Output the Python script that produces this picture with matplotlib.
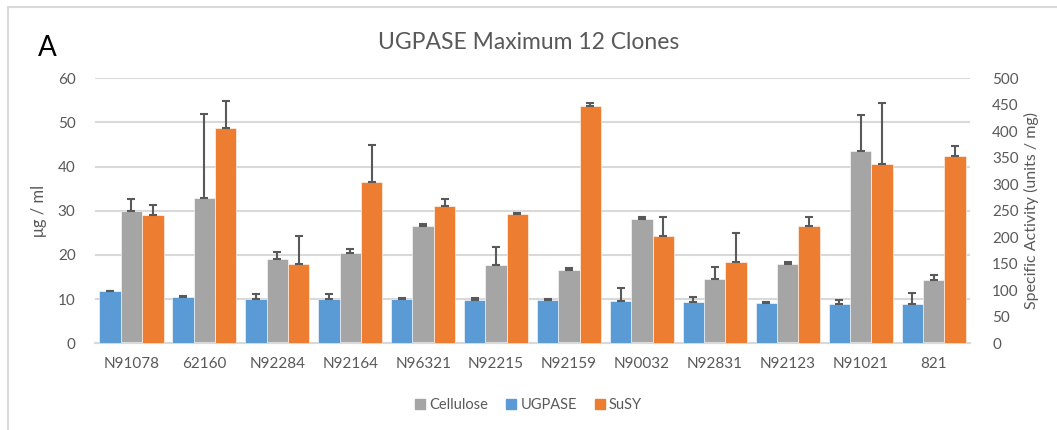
import numpy as np
import matplotlib
matplotlib.use("Agg")
import matplotlib.pyplot as plt
from matplotlib.lines import Line2D

plt.rcParams['font.family'] = ['Lato', 'DejaVu Sans']

clones = ['N91078', '62160', 'N92284', 'N92164', 'N96321', 'N92215',
          'N92159', 'N90032', 'N92831', 'N92123', 'N91021', '821']
# cellulose, ug/ml (left axis)
cellulose = [30.0, 32.8, 19.2, 20.5, 26.6, 17.8, 16.6, 28.2, 14.6, 18.0, 43.5, 14.3]
cellulose_err = [2.7, 19.1, 1.5, 0.8, 0.3, 3.9, 0.5, 0.3, 2.7, 0.5, 8.2, 1.1]
# specific activity, units/mg (right axis)
ugpase = [98.5, 88, 83, 83, 83, 81.7, 81.7, 79, 77.4, 75.5, 73.6, 73.6]
ugpase_err = [1, 1.5, 10, 10, 2, 3, 2, 25, 10.5, 2.5, 8, 22]
susy = [242, 407, 150, 304, 260, 244, 447, 202, 153, 221, 338, 353]
susy_err = [19, 51, 53, 70, 13, 1, 6, 37, 55, 18, 115, 19]

C_BLUE = '#5B9BD5'
C_GRAY = '#A5A5A5'
C_ORANGE = '#ED7D31'
C_TEXT = '#595959'
C_GRID = '#D9D9D9'

fig = plt.figure(figsize=(10.57, 4.30), dpi=100)
ax = fig.add_axes([0.0899, 0.2016, 0.8278, 0.6163])
ax2 = ax.twinx()

x = np.arange(len(clones))
w = 0.293
ekw = dict(ecolor=C_TEXT, elinewidth=1.5, capsize=3, capthick=1.5)

z = np.zeros(len(clones))
ax2.bar(x - w, ugpase, w, color=C_BLUE, edgecolor='white', linewidth=0.4,
        yerr=[z, ugpase_err], error_kw=ekw, zorder=3)
ax.bar(x, cellulose, w, color=C_GRAY, edgecolor='white', linewidth=0.4,
       yerr=[z, cellulose_err], error_kw=ekw, zorder=3)
ax2.bar(x + w, susy, w, color=C_ORANGE, edgecolor='white', linewidth=0.4,
        yerr=[z, susy_err], error_kw=ekw, zorder=3)

ax.set_xlim(-0.5, len(clones) - 0.5)
ax.set_ylim(0, 60)
ax2.set_ylim(0, 500)
ax.set_yticks(np.arange(0, 61, 10))
ax2.set_yticks(np.arange(0, 501, 50))
ax.set_xticks(x)
ax.set_xticklabels(clones)

ax.grid(axis='y', color=C_GRID, linewidth=1.5, zorder=0)
ax.set_axisbelow(True)
for a in (ax, ax2):
    for s in ('top', 'left', 'right'):
        a.spines[s].set_visible(False)
    a.spines['bottom'].set_color(C_GRID)
    a.spines['bottom'].set_linewidth(1.5)
    a.tick_params(length=0, labelsize=11, labelcolor=C_TEXT)
ax.tick_params(axis='y', pad=14)
ax.tick_params(axis='x', pad=10)
ax2.tick_params(axis='y', pad=16)

ax.set_ylabel('μg / ml', fontsize=12, color=C_TEXT, labelpad=8)
ax2.set_ylabel('Specific Activity (units / mg)', fontsize=11.5, color=C_TEXT, labelpad=4)

fig.text(0.5, 0.902, 'UGPASE Maximum 12 Clones', ha='center', va='center',
         fontsize=16.5, color=C_TEXT)
fig.text(0.036, 0.888, 'A', ha='left', va='center', fontsize=20, color='black')

handles = [Line2D([], [], marker='s', linestyle='none', color=c, markersize=7)
           for c in (C_GRAY, C_BLUE, C_ORANGE)]
fig.legend(handles, ['Cellulose', 'UGPASE', 'SuSY'], loc='center',
           bbox_to_anchor=(0.5, 0.058), ncol=3, frameon=False, fontsize=10.5,
           labelcolor=C_TEXT, handlelength=0.7, handletextpad=0.3,
           columnspacing=1.2)

# chart border (cropped on right and bottom)
fig.add_artist(Line2D([8 / 1057, 8 / 1057], [0, 1 - 7 / 430], color=C_GRID,
                      linewidth=1.5, transform=fig.transFigure))
fig.add_artist(Line2D([8 / 1057, 1], [1 - 7 / 430, 1 - 7 / 430], color=C_GRID,
                      linewidth=1.5, transform=fig.transFigure))

fig.savefig('out.png', dpi=100)
